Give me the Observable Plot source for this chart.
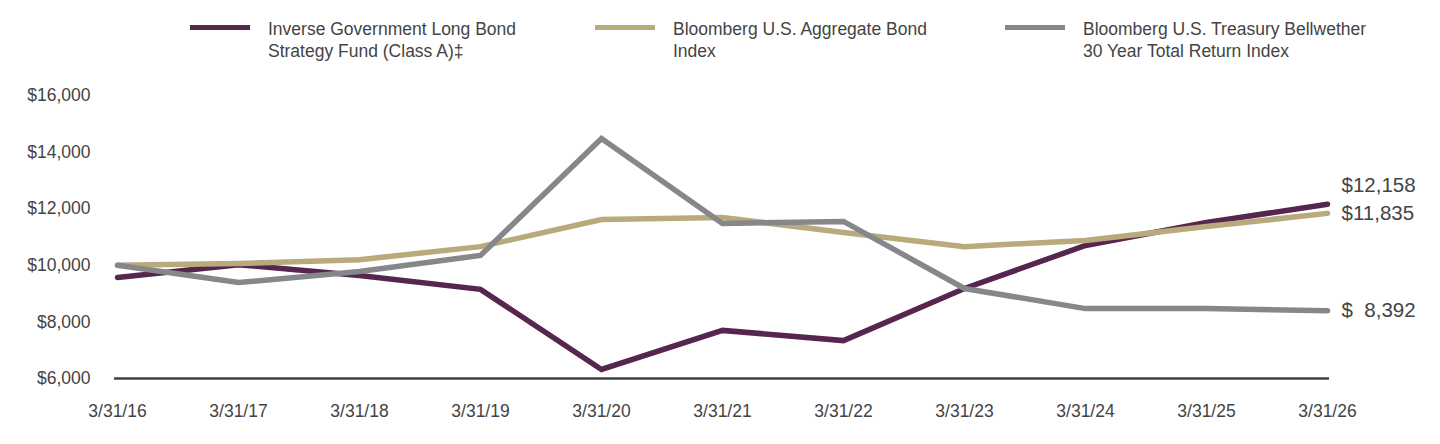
<!DOCTYPE html>
<html>
<head>
<meta charset="utf-8">
<script src="https://cdn.jsdelivr.net/npm/d3@7"></script>
<script src="https://cdn.jsdelivr.net/npm/@observablehq/plot@0.6"></script>
<style>
  html, body { margin: 0; padding: 0; background: #fff; }
  body { width: 1440px; height: 444px; overflow: hidden; font-family: "Liberation Sans", Arial, sans-serif; color: #444; }
  #legend { position: relative; height: 75px; width: 1440px; }
  .item { position: absolute; top: 18px; display: flex; align-items: flex-start; }
  .sw { width: 60px; height: 5px; margin-top: 7px; margin-right: 18px; }
  .lt { font-size: 17.5px; line-height: 22px; color: #444; }
  #chart svg { display: block; }
</style>
</head>
<body>
<div id="legend"></div>
<div id="chart"></div>
<script>
const dates = ["3/31/16","3/31/17","3/31/18","3/31/19","3/31/20","3/31/21","3/31/22","3/31/23","3/31/24","3/31/25","3/31/26"];
const seriesNames = [
  "Inverse Government Long Bond Strategy Fund (Class A)‡",
  "Bloomberg U.S. Aggregate Bond Index",
  "Bloomberg U.S. Treasury Bellwether 30 Year Total Return Index"
];
const legendLines = [
  ["Inverse Government Long Bond", "Strategy Fund (Class A)‡"],
  ["Bloomberg U.S. Aggregate Bond", "Index"],
  ["Bloomberg U.S. Treasury Bellwether", "30 Year Total Return Index"]
];
const colors = ["#57264f", "#b8aa7b", "#86878b"];
const fundValues = [9570, 10020, 9640, 9150, 6320, 7700, 7340, 9180, 10700, 11510, 12158];
const aggValues = [10000, 10060, 10200, 10660, 11620, 11690, 11160, 10660, 10880, 11370, 11835];
const treasValues = [10000, 9390, 9780, 10350, 14480, 11480, 11550, 9180, 8470, 8470, 8392];
const endLabels = ["$12,158", "$11,835", "$\u20078,392"];
const yTicks = [6000, 8000, 10000, 12000, 14000, 16000];

const allValues = [fundValues, aggValues, treasValues];
const data = [];
allValues.forEach((vals, s) => vals.forEach((v, i) => data.push({series: seriesNames[s], date: dates[i], value: v})));
const ends = allValues.map((vals, s) => ({series: seriesNames[s], date: dates[dates.length - 1], value: vals[vals.length - 1], label: endLabels[s]}));

// legend
const legend = document.getElementById("legend");
const lefts = [190, 595, 1005];
legendLines.forEach((lines, i) => {
  const it = document.createElement("div");
  it.className = "item";
  it.style.left = lefts[i] + "px";
  it.innerHTML = `<div class="sw" style="background:${colors[i]}"></div><div class="lt">${lines[0]}<br>${lines[1]}</div>`;
  legend.appendChild(it);
});

const fmt = d3.format(",");
const plot = Plot.plot({
  width: 1440,
  height: 369,
  marginLeft: 114,
  marginRight: 111,
  marginTop: 20,
  marginBottom: 66,
  style: { fontFamily: "'Liberation Sans', Arial, sans-serif", fontSize: "17px", color: "#444", background: "#fff" },
  x: { type: "point", domain: dates, padding: 0, label: null },
  y: { domain: [6000, 16000], label: null },
  color: { domain: seriesNames, range: colors },
  marks: [
    Plot.axisY({ ticks: yTicks, tickFormat: d => "$" + fmt(d), tickSize: 0, tickPadding: 24, fontSize: 17.5, fill: "#444" }),
    Plot.axisX({ tickSize: 0, tickPadding: 26, fontSize: 17.5, fill: "#444" }),
    Plot.ruleY([6000], { stroke: "#404040", strokeWidth: 2.5 }),
    Plot.line(data, { x: "date", y: "value", z: "series", stroke: "series", strokeWidth: 5.5, strokeLinejoin: "miter", strokeMiterlimit: 2 }),
    Plot.text(ends.slice(0, 1), { x: "date", y: "value", text: "label", textAnchor: "start", dx: 14, dy: -19, fontSize: 20.5, fill: "#444" }),
    Plot.text(ends.slice(1), { x: "date", y: "value", text: "label", textAnchor: "start", dx: 14, dy: 0, fontSize: 20.5, fill: "#444" })
  ]
});
document.getElementById("chart").appendChild(plot);
</script>
</body>
</html>
